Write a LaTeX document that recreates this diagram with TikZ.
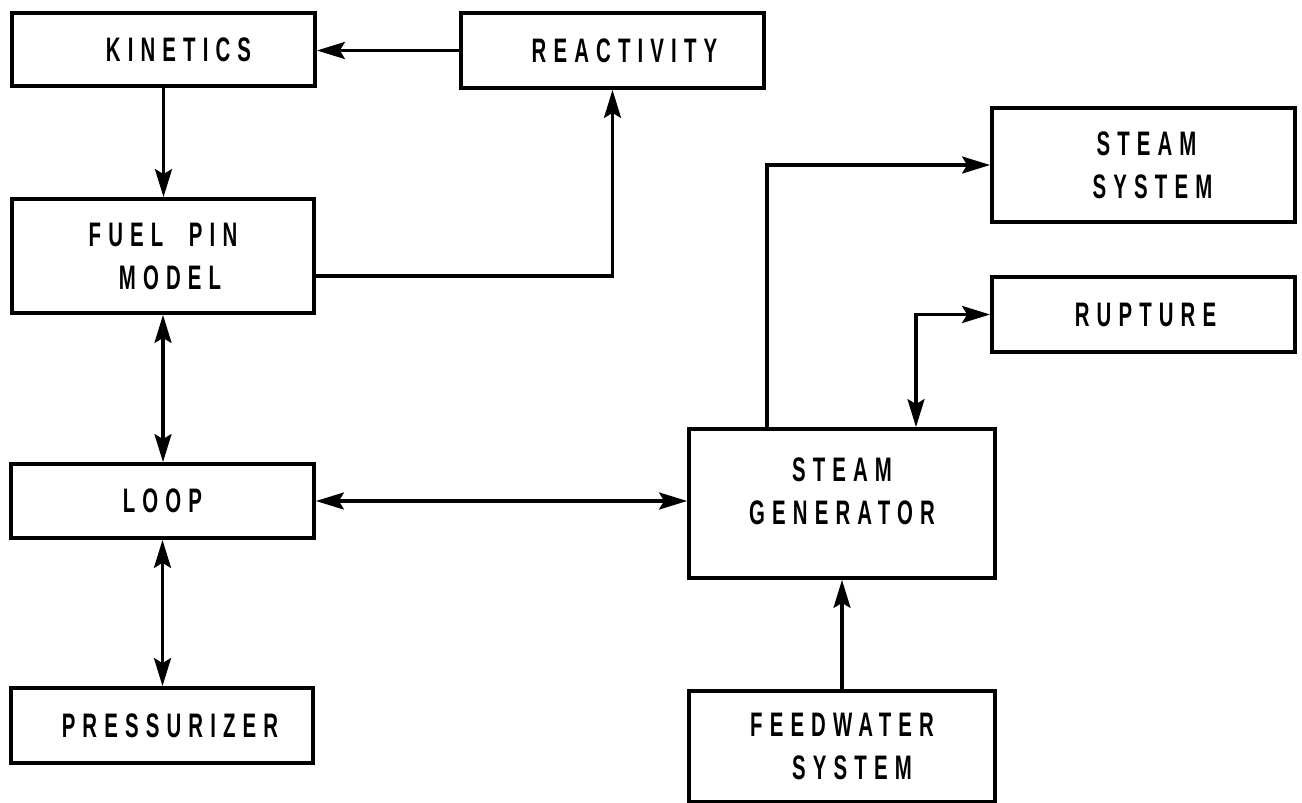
\documentclass[tikz,border=0pt]{standalone}
\usepackage{fontspec}
\newfontfamily\lett{Liberation Sans}[FakeStretch=0.6,LetterSpace=21]
\usetikzlibrary{arrows.meta}
\begin{document}
\begin{tikzpicture}[x=1pt,y=-1pt,
  box/.style={draw, line width=3.8pt, inner sep=0pt, align=center,
    font=\lett\bfseries\fontsize{34}{43}\selectfont},
  lbl/.style={inner sep=0pt, align=center,
    font=\lett\bfseries\fontsize{34}{43}\selectfont},
  conn/.style={line width=3.1pt},
  arr/.style={conn, -{Stealth[length=28pt,width=17pt,inset=5pt]}},
  darr/.style={conn, {Stealth[length=28pt,width=17pt,inset=5pt]}-{Stealth[length=28pt,width=17pt,inset=5pt]}}]
\useasboundingbox (0,0) rectangle (1302,803);
% boxes
\node[box, minimum width=303pt, minimum height=73pt] (kin) at (163.5,49.5) {\hspace*{30pt}KINETICS};
\node[box, minimum width=303pt, minimum height=75pt] (react) at (612.5,50.5) {\hspace*{24pt}REACTIVITY};
\node[box, minimum width=302pt, minimum height=114pt] (fuel) at (163,256) {FUEL\ \ PIN\\\hspace*{14pt}MODEL};
\node[box, minimum width=303pt, minimum height=74pt] (loop) at (162.5,501) {LOOP};
\node[box, minimum width=302pt, minimum height=75pt] (press) at (162,725.5) {\hspace*{16pt}PRESSURIZER};
\node[box, minimum width=306pt, minimum height=149pt] (sg) at (842,503.5) {};
\node[lbl] (sgtext) at (842,491) {STEAM\\GENERATOR};
\node[box, minimum width=303pt, minimum height=114pt] (ss) at (1143.5,165) {\hspace*{6pt}STEAM\\\hspace*{18pt}SYSTEM};
\node[box, minimum width=303pt, minimum height=75pt] (rup) at (1143.5,314.5) {\hspace*{4pt}RUPTURE};
\node[box, minimum width=306pt, minimum height=111pt] (fw) at (842,746.5) {FEEDWATER\\\hspace*{20pt}SYSTEM};
% connectors
\draw[arr] (react.west) -- (react.west -| kin.east);
\draw[arr] (kin.south) -- (kin.south |- fuel.north);
\draw[arr] ([yshift=-20pt]fuel.east) -| (react.south);
\draw[darr] (fuel.south) -- (fuel.south |- loop.north);
\draw[darr] (loop.south) -- (loop.south |- press.north);
\draw[darr] (loop.east) -- (loop.east -| sg.west);
\draw[arr] ([xshift=-75pt]sg.north) |- (ss.west);
\draw[darr] ([xshift=74pt]sg.north) |- (rup.west);
\draw[arr] (fw.north) -- (sg.south);
\end{tikzpicture}
\end{document}
